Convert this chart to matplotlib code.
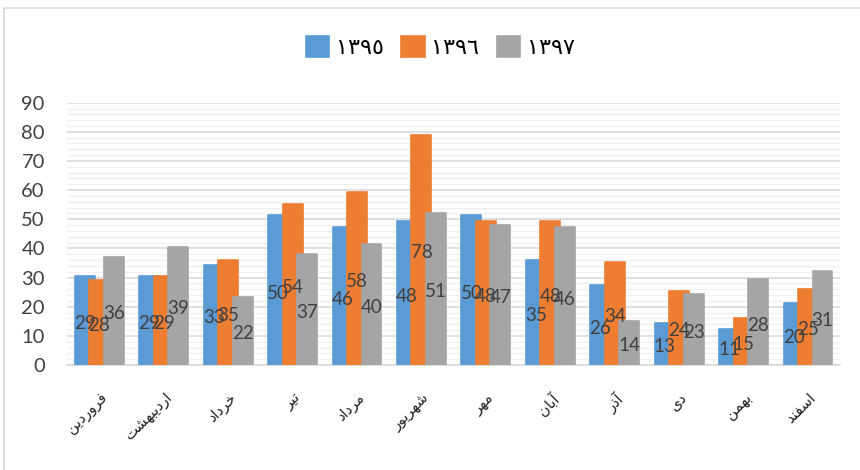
import matplotlib
matplotlib.use("Agg")
import matplotlib.pyplot as plt
import numpy as np
from matplotlib.patches import Rectangle

# month names (Persian) and legend years
months = ["فروردین", "اردیبهشت", "خرداد", "تیر", "مرداد", "شهریور",
          "مهر", "آبان", "آذر", "دی", "بهمن", "اسفند"]
years = ["١٣٩٥", "١٣٩٦", "١٣٩٧"]

# bar heights
bars_1395 = [30.5, 30.5, 34.4, 51.4, 47.2, 49.3, 51.4, 35.9, 27.3, 14.5, 12.4, 21.2]
bars_1396 = [29.3, 30.5, 36.1, 55.2, 59.3, 79.0, 49.3, 49.3, 35.5, 25.5, 16.2, 26.1]
bars_1397 = [37.1, 40.5, 23.3, 38.2, 41.6, 52.1, 48.2, 47.2, 15.1, 24.4, 29.4, 32.2]

# data labels printed on the bars
labels_1395 = [29, 29, 33, 50, 46, 48, 50, 35, 26, 13, 11, 20]
labels_1396 = [28, 29, 35, 54, 58, 78, 48, 48, 34, 24, 15, 25]
labels_1397 = [36, 39, 22, 37, 40, 51, 47, 46, 14, 23, 28, 31]

colors = ["#5B9BD5", "#ED7D31", "#A5A5A5"]

# minimal arabic shaping: (isolated, final, initial, medial)
FORMS = {
    "ا": ("\uFE8D", "\uFE8E", None, None),
    "آ": ("\uFE81", "\uFE82", None, None),
    "ب": ("\uFE8F", "\uFE90", "\uFE91", "\uFE92"),
    "ت": ("\uFE95", "\uFE96", "\uFE97", "\uFE98"),
    "خ": ("\uFEA5", "\uFEA6", "\uFEA7", "\uFEA8"),
    "د": ("\uFEA9", "\uFEAA", None, None),
    "ذ": ("\uFEAB", "\uFEAC", None, None),
    "ر": ("\uFEAD", "\uFEAE", None, None),
    "س": ("\uFEB1", "\uFEB2", "\uFEB3", "\uFEB4"),
    "ش": ("\uFEB5", "\uFEB6", "\uFEB7", "\uFEB8"),
    "ف": ("\uFED1", "\uFED2", "\uFED3", "\uFED4"),
    "م": ("\uFEE1", "\uFEE2", "\uFEE3", "\uFEE4"),
    "ن": ("\uFEE5", "\uFEE6", "\uFEE7", "\uFEE8"),
    "ه": ("\uFEE9", "\uFEEA", "\uFEEB", "\uFEEC"),
    "و": ("\uFEED", "\uFEEE", None, None),
    "ی": ("\uFBFC", "\uFBFD", "\uFBFE", "\uFBFF"),
}


def shape(word):
    out = []
    for i, ch in enumerate(word):
        f = FORMS[ch]
        prev_joins = i > 0 and FORMS[word[i - 1]][2] is not None
        next_joins = i < len(word) - 1 and f[2] is not None
        if prev_joins and next_joins:
            out.append(f[3])
        elif prev_joins:
            out.append(f[1])
        elif next_joins:
            out.append(f[2])
        else:
            out.append(f[0])
    return "".join(reversed(out))


fig = plt.figure(figsize=(8.6, 4.7), dpi=100)
ax = fig.add_axes([0.078, 0.2234, 0.899, 0.5581])

x = np.arange(len(months))
width = 0.31
step = 0.225
series = [(bars_1395, labels_1395), (bars_1396, labels_1396), (bars_1397, labels_1397)]
handles = []
for k, (vals, labs) in enumerate(series):
    pos = x + (k - 1) * step
    b = ax.bar(pos, vals, width, color=colors[k], edgecolor=colors[k],
               linewidth=1.2, joinstyle="round", zorder=3 + k)
    handles.append(b)
    for p, v, lab in zip(pos, vals, labs):
        ax.text(p, v / 2 - 1, str(lab), ha="center", va="center", fontsize=13.5,
                family="Lato", color="#404040", zorder=10)

ax.set_xlim(-0.5, len(months) - 0.5)
ax.set_ylim(0, 90)
ax.set_yticks(range(0, 91, 10))
ax.set_yticks(range(0, 91, 2), minor=True)
ax.grid(axis="y", which="major", color="#D9D9D9", linewidth=1.2, zorder=0)
ax.grid(axis="y", which="minor", color="#F0F0F0", linewidth=1.0, zorder=0)
ax.tick_params(axis="y", which="both", length=0, labelsize=14.5, labelcolor="#404040", pad=16)
for t in ax.get_yticklabels():
    t.set_family("Lato")
ax.set_xticks(x)
ax.set_xticklabels([shape(m) for m in months], rotation=45, ha="right",
                   rotation_mode="anchor", fontsize=10.5, family="DejaVu Sans")
ax.tick_params(axis="x", length=0, pad=18, labelcolor="#222222")
for s in ["top", "right", "left"]:
    ax.spines[s].set_visible(False)
ax.spines["bottom"].set_color("#D9D9D9")
ax.spines["bottom"].set_linewidth(1.2)

fig.legend(handles, years, loc="center", bbox_to_anchor=(0.512, 0.9), ncol=3,
           frameon=False, prop={"family": "DejaVu Sans", "size": 16},
           handlelength=1.05, handleheight=1.05, handletextpad=0.3, columnspacing=0.8)

# chart area border (left and top edges visible)
fig.patches.append(Rectangle((4 / 860, -0.1), 1.2, 1.1 - 8 / 470, transform=fig.transFigure,
                             fill=False, edgecolor="#D9D9D9", linewidth=1.2))

fig.savefig("out.png", dpi=100)
